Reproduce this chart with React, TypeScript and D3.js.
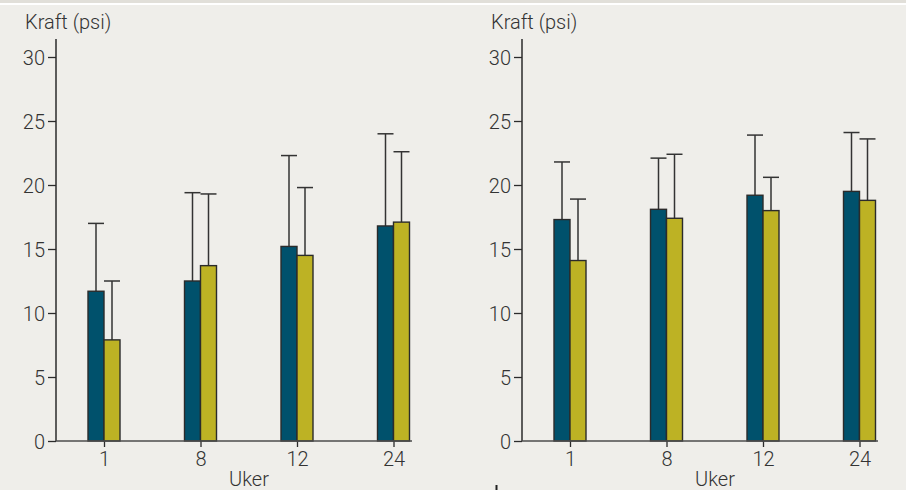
import React, { useRef, useEffect } from 'react';
import * as d3 from 'd3';

// Uker (weeks) on the x axis
const WEEKS = ['1', '8', '12', '24'];
const Y_TICKS = [0, 5, 10, 15, 20, 25, 30];

// Left panel: mean and SD (upper error only)
const LEFT_BLUE = [11.7, 12.5, 15.2, 16.8];
const LEFT_BLUE_SD = [5.3, 6.9, 7.1, 7.2];
const LEFT_YELLOW = [7.9, 13.7, 14.5, 17.1];
const LEFT_YELLOW_SD = [4.6, 5.6, 5.3, 5.5];

// Right panel
const RIGHT_BLUE = [17.3, 18.1, 19.2, 19.5];
const RIGHT_BLUE_SD = [4.5, 4.0, 4.7, 4.6];
const RIGHT_YELLOW = [14.1, 17.4, 18.0, 18.8];
const RIGHT_YELLOW_SD = [4.8, 5.0, 2.6, 4.8];

const W = 906;
const H = 490;
const BG = '#efeeea';
const BLUE = '#00516c';
const YELLOW = '#bdb224';
const INK = '#2b2b2b';
const TEXT = '#333';
const FONT = "Roboto, 'Liberation Sans', Arial, sans-serif";
const FONT_W = 300;
const BAR_W = 16;

interface PanelData {
  ox: number;
  blue: number[];
  blueSd: number[];
  yellow: number[];
  yellowSd: number[];
}

const PANELS: PanelData[] = [
  { ox: 56, blue: LEFT_BLUE, blueSd: LEFT_BLUE_SD, yellow: LEFT_YELLOW, yellowSd: LEFT_YELLOW_SD },
  { ox: 522, blue: RIGHT_BLUE, blueSd: RIGHT_BLUE_SD, yellow: RIGHT_YELLOW, yellowSd: RIGHT_YELLOW_SD },
];

export default function App() {
  const svgRef = useRef<SVGSVGElement>(null);

  useEffect(() => {
    if (!svgRef.current) return;
    const svg = d3.select(svgRef.current);
    svg.selectAll('*').remove();

    // Background + the thin band at the very top
    svg.append('rect').attr('width', W).attr('height', H).attr('fill', BG);
    svg.append('rect').attr('width', W).attr('height', 3).attr('fill', '#e1dfd9');
    svg.append('rect').attr('y', 3).attr('width', W).attr('height', 2).attr('fill', '#ffffff');

    const yScale = d3.scaleLinear().domain([0, 30]).range([441, 57]);

    PANELS.forEach(p => {
      const g = svg.append('g');
      const xScale = d3.scalePoint<string>().domain(WEEKS).range([p.ox + 48, p.ox + 337.5]);

      // Y axis
      g.append('g')
        .attr('transform', `translate(${p.ox},0)`)
        .call(d3.axisLeft(yScale).tickValues(Y_TICKS).tickSize(8).tickPadding(3))
        .call(ax => ax.select('.domain').remove())
        .call(ax => ax.selectAll('line').attr('stroke', INK).attr('stroke-width', 1.3))
        .call(ax => ax.selectAll('text').attr('fill', TEXT).attr('font-size', '20px')
          .attr('font-family', FONT).attr('font-weight', FONT_W).attr('dy', '0.36em'));
      g.append('line')
        .attr('x1', p.ox).attr('x2', p.ox).attr('y1', 39).attr('y2', yScale(0))
        .attr('stroke', INK).attr('stroke-width', 1.5);

      g.append('text')
        .attr('x', p.ox - 31).attr('y', 29)
        .attr('fill', TEXT).attr('font-size', '20px').attr('font-family', FONT).attr('font-weight', FONT_W)
        .text('Kraft (psi)');

      // Bars with upper error bars
      const series = [
        { vals: p.blue, sd: p.blueSd, color: BLUE, off: -BAR_W },
        { vals: p.yellow, sd: p.yellowSd, color: YELLOW, off: 0 },
      ];
      series.forEach(s => {
        WEEKS.forEach((wk, i) => {
          const x = (xScale(wk) as number) + s.off;
          const top = yScale(s.vals[i]);
          const errY = yScale(s.vals[i] + s.sd[i]);
          const cx = x + BAR_W / 2;
          g.append('line')
            .attr('x1', cx).attr('x2', cx).attr('y1', top).attr('y2', errY)
            .attr('stroke', '#333').attr('stroke-width', 1.5);
          g.append('line')
            .attr('x1', x).attr('x2', x + BAR_W).attr('y1', errY).attr('y2', errY)
            .attr('stroke', '#333').attr('stroke-width', 1.5);
          g.append('rect')
            .attr('x', x).attr('y', top)
            .attr('width', BAR_W).attr('height', yScale(0) - top)
            .attr('fill', s.color).attr('stroke', INK).attr('stroke-width', 1.4);
        });
      });

      // X axis
      g.append('g')
        .attr('transform', `translate(0,${yScale(0)})`)
        .call(d3.axisBottom(xScale).tickSize(6).tickPadding(5))
        .call(ax => ax.select('.domain').remove())
        .call(ax => ax.selectAll('line').attr('stroke', INK).attr('stroke-width', 1.3))
        .call(ax => ax.selectAll('text').attr('fill', TEXT).attr('font-size', '20px')
          .attr('font-family', FONT).attr('font-weight', FONT_W));
      g.append('line')
        .attr('x1', p.ox).attr('x2', p.ox + 356).attr('y1', yScale(0)).attr('y2', yScale(0))
        .attr('stroke', '#4d4d4d').attr('stroke-width', 1.5);

      g.append('text')
        .attr('x', p.ox + 193).attr('y', 486).attr('text-anchor', 'middle')
        .attr('fill', TEXT).attr('font-size', '20px').attr('font-family', FONT).attr('font-weight', FONT_W)
        .text('Uker');
    });

    // small mark at the bottom edge
    svg.append('rect').attr('x', 495.5).attr('y', 485).attr('width', 2).attr('height', 5).attr('fill', '#222');
  }, []);

  return (
    <svg
      ref={svgRef}
      width={W}
      height={H}
      style={{ display: 'block', position: 'absolute', left: 0, top: 0 }}
    />
  );
}
